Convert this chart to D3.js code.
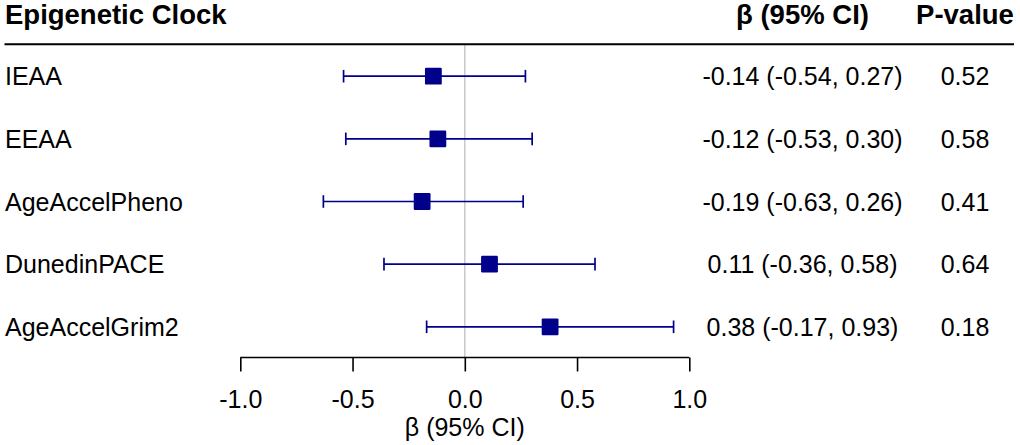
<!DOCTYPE html>
<html>
<head>
<meta charset="utf-8">
<script src="https://cdn.jsdelivr.net/npm/d3@7"></script>
<style>
  html, body { margin: 0; padding: 0; background: #fff; }
  svg { display: block; font-family: "Liberation Sans", Arial, Helvetica, sans-serif; }
</style>
</head>
<body>
<svg id="chart" width="1020" height="445"></svg>
<script>
// ---- data ----
const clocks = ["IEAA", "EEAA", "AgeAccelPheno", "DunedinPACE", "AgeAccelGrim2"];
const beta   = [-0.14, -0.12, -0.19, 0.11, 0.38];
const lower  = [-0.54, -0.53, -0.63, -0.36, -0.17];
const upper  = [0.27, 0.30, 0.26, 0.58, 0.93];
const pvals  = ["0.52", "0.58", "0.41", "0.64", "0.18"];
const xTicks = [-1.0, -0.5, 0.0, 0.5, 1.0];
const headers = { clock: "Epigenetic Clock", est: "β (95% CI)", p: "P-value" };
const xTitle = "β (95% CI)";

const fmt = (v, k) => d3.format("." + k + "f")(v).replace("\u2212", "-");
const rows = clocks.map((c, i) => ({
  clock: c, beta: beta[i], lo: lower[i], hi: upper[i], p: pvals[i],
  label: `${fmt(beta[i], 2)} (${fmt(lower[i], 2)}, ${fmt(upper[i], 2)})`
}));

// ---- layout ----
const svg = d3.select("#chart");
const navy = "#00008B";
const x = d3.scaleLinear().domain([-1, 1]).range([240.3, 689.3]);
const y = d3.scalePoint().domain(clocks).range([76.2, 326.8]);
const axisY = 357.5;
const headerLineY = 44.3;
const estX = 802.5, pX = 965;
const fs = 25, hfs = 27.5;

// header
svg.append("text").attr("x", 5).attr("y", 24).attr("font-size", hfs).attr("font-weight", "bold")
  .text(headers.clock);
svg.append("text").attr("x", estX).attr("y", 24).attr("font-size", hfs).attr("font-weight", "bold")
  .attr("text-anchor", "middle").text(headers.est);
svg.append("text").attr("x", pX).attr("y", 24).attr("font-size", hfs).attr("font-weight", "bold")
  .attr("text-anchor", "middle").text(headers.p);

// zero reference line
svg.append("line").attr("x1", x(0)).attr("x2", x(0)).attr("y1", headerLineY).attr("y2", axisY)
  .attr("stroke", "#c8c8c8").attr("stroke-width", 1.5);

svg.append("line").attr("x1", 4.5).attr("x2", 1014).attr("y1", headerLineY).attr("y2", headerLineY)
  .attr("stroke", "#000").attr("stroke-width", 2);

// rows
const g = svg.append("g").selectAll("g").data(rows).join("g")
  .attr("transform", d => `translate(0,${y(d.clock)})`);

g.append("text").attr("x", 5).attr("y", 9).attr("font-size", fs).text(d => d.clock);
g.append("text").attr("x", estX).attr("y", 9).attr("font-size", fs).attr("text-anchor", "middle").text(d => d.label);
g.append("text").attr("x", pX).attr("y", 9).attr("font-size", fs).attr("text-anchor", "middle").text(d => d.p);

g.append("line").attr("x1", d => x(d.lo)).attr("x2", d => x(d.hi)).attr("y1", 0).attr("y2", 0)
  .attr("stroke", navy).attr("stroke-width", 1.7);
g.append("line").attr("x1", d => x(d.lo)).attr("x2", d => x(d.lo)).attr("y1", -6.3).attr("y2", 6.3)
  .attr("stroke", navy).attr("stroke-width", 1.7);
g.append("line").attr("x1", d => x(d.hi)).attr("x2", d => x(d.hi)).attr("y1", -6.3).attr("y2", 6.3)
  .attr("stroke", navy).attr("stroke-width", 1.7);
g.append("rect").attr("x", d => x(d.beta) - 8.4).attr("y", -8.4).attr("width", 16.8).attr("height", 16.8)
  .attr("rx", 1.2).attr("fill", navy);

// x axis
const axis = d3.axisBottom(x).tickValues(xTicks).tickFormat(d => fmt(d, 1)).tickSize(14);
const ax = svg.append("g").attr("transform", `translate(0,${axisY})`).call(axis);
ax.select(".domain").attr("stroke", "#000").attr("stroke-width", 1.6).attr("d", `M${x(-1)},0H${x(1)}`);
ax.selectAll(".tick line").attr("stroke", "#000").attr("stroke-width", 1.6);
ax.selectAll(".tick text").attr("font-size", fs).attr("fill", "#000")
  .attr("font-family", "'Liberation Sans', Arial, sans-serif").attr("dy", null).attr("y", 50);

svg.append("text").attr("x", x(0)).attr("y", 436).attr("font-size", fs).attr("text-anchor", "middle")
  .text(xTitle);
</script>
</body>
</html>
